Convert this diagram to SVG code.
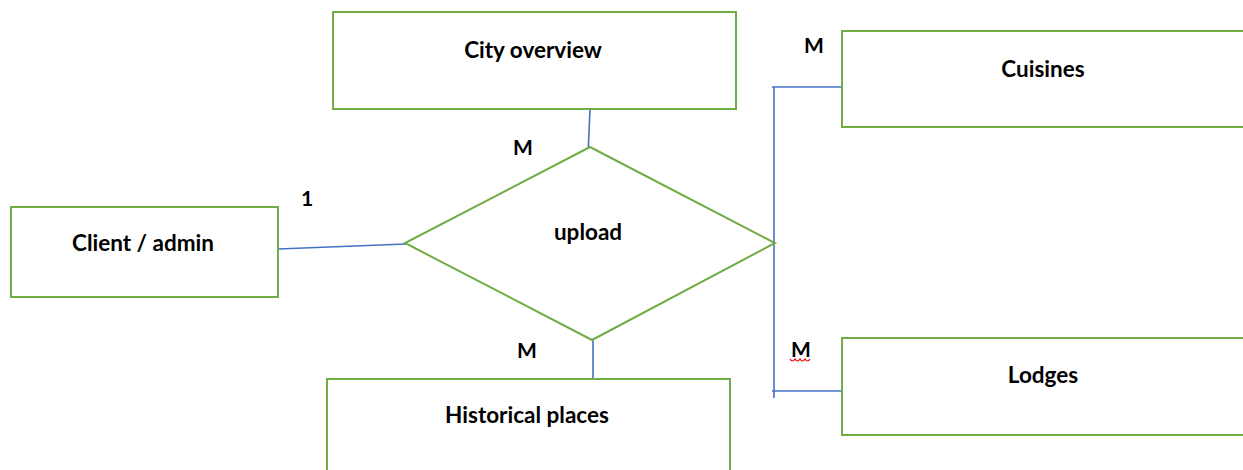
<svg xmlns="http://www.w3.org/2000/svg" width="1243" height="470" viewBox="0 0 1243 470">
<style>
.ent{fill:#fff;stroke:#70AD47;stroke-width:2}
.rel{fill:#fff;stroke:#70AD47;stroke-width:2}
.lbl{font-family:Lato,"Liberation Sans",sans-serif;font-weight:bold;font-size:22.5px;fill:#000;text-anchor:middle}
.card{font-family:Lato,"Liberation Sans",sans-serif;font-weight:bold;font-size:21px;fill:#000;text-anchor:middle}
.conn{stroke:#4472C4;stroke-width:1.6;fill:none}
</style>
<rect width="1243" height="470" fill="#fff"/>
<g id="connectors">
<line class="conn" x1="590" y1="109" x2="588" y2="155"/>
<line class="conn" x1="278" y1="249" x2="406" y2="244"/>
<line class="conn" x1="593" y1="340" x2="593" y2="393"/>
<line class="conn" x1="774" y1="87" x2="774" y2="398"/>
<line class="conn" x1="772" y1="87" x2="842" y2="87"/>
<line class="conn" x1="772" y1="391" x2="842" y2="391"/>
</g>
<g id="city-overview">
<rect class="ent" x="333" y="12" width="403" height="97"/>
<text class="lbl" x="533" y="58">City overview</text>
</g>
<g id="cuisines">
<rect class="ent" x="842" y="31" width="410" height="96"/>
<text class="lbl" x="1043" y="77">Cuisines</text>
</g>
<g id="client-admin">
<rect class="ent" x="11" y="207" width="267" height="90"/>
<text class="lbl" x="143" y="251">Client / admin</text>
</g>
<g id="upload">
<polygon class="rel" points="590,147 775,243 592,340 405,243"/>
<text class="lbl" x="588" y="240">upload</text>
</g>
<g id="historical-places">
<rect class="ent" x="327" y="379" width="403" height="100"/>
<text class="lbl" x="527" y="423">Historical places</text>
</g>
<g id="lodges">
<rect class="ent" x="842" y="338" width="410" height="97"/>
<text class="lbl" x="1043" y="383">Lodges</text>
</g>
<g id="cardinalities">
<text class="card" x="523" y="155">M</text>
<text class="card" x="307" y="206">1</text>
<text class="card" x="527" y="358">M</text>
<text class="card" x="814" y="53">M</text>
<text class="card" x="801" y="357">M</text>
<path d="M790,359 q2.5,4 5,0 q2.5,4 5,0 q2.5,4 5,0 q2.5,4 5,0" fill="none" stroke="#E00" stroke-width="1.2"/>
</g>
</svg>
